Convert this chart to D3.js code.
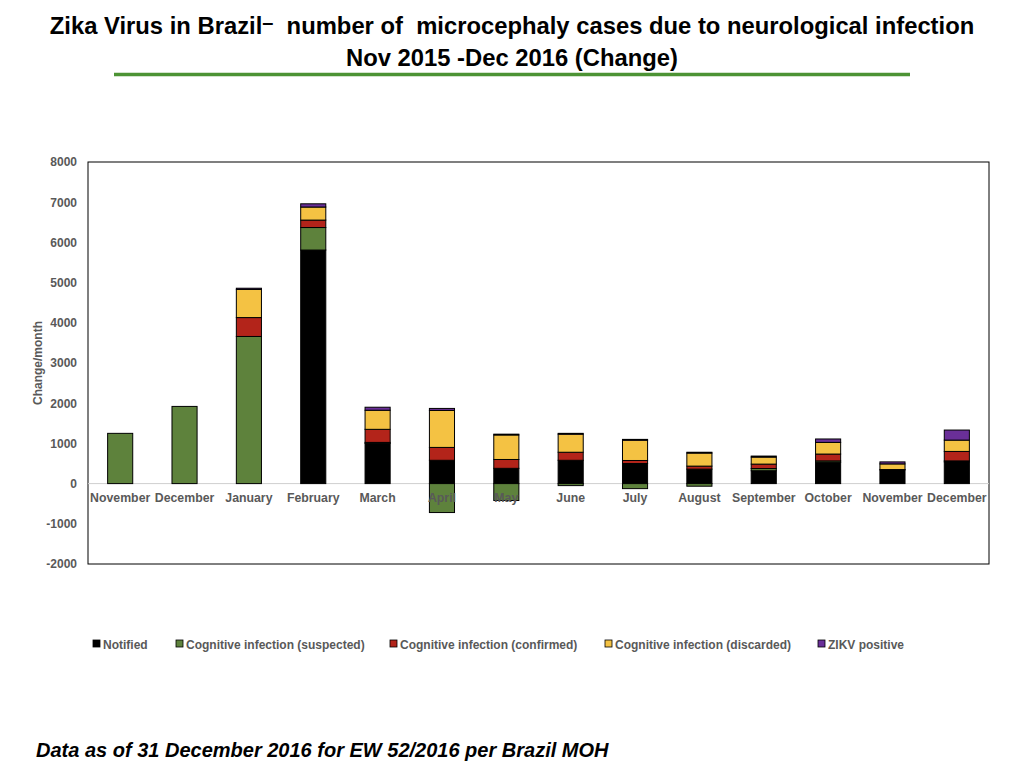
<!DOCTYPE html>
<html>
<head>
<meta charset="utf-8">
<script src="https://cdn.jsdelivr.net/npm/d3@7"></script>
<style>
  html, body { margin: 0; padding: 0; background: #fff; }
  svg { display: block; font-family: "Liberation Sans", Arial, Helvetica, sans-serif; }
</style>
</head>
<body>
<svg id="chart" width="1024" height="768"></svg>
<script>
const months = ["November","December","January","February","March","April","May","June","July","August","September","October","November","December"];
const notified  = [0, 0, 0, 5810, 1000, 580, 380, 580, 500, 360, 320, 530, 340, 540];
const suspected = [1250, 1920, 3660, 560, 25, -720, -420, -50, -125, -65, 55, 35, 0, 25];
const confirmed = [0, 0, 470, 185, 325, 320, 220, 200, 75, 75, 110, 170, 10, 235];
const discarded = [0, 0, 700, 325, 475, 920, 610, 450, 505, 325, 175, 290, 140, 282];
const zikv      = [0, 0, 30, 80, 75, 50, 20, 20, 20, 20, 25, 85, 50, 250];
const seriesNames = ["Notified", "Cognitive infection (suspected)", "Cognitive infection (confirmed)", "Cognitive infection (discarded)", "ZIKV positive"];
const seriesColors = ["#000000", "#5e823c", "#b3241a", "#f4c243", "#6a2f98"];
const yTicks = [-2000, -1000, 0, 1000, 2000, 3000, 4000, 5000, 6000, 7000, 8000];

const seriesArrays = [notified, suspected, confirmed, discarded, zikv];
const keys = seriesNames.map((_, i) => "s" + i);
const rows = months.map((m, i) => {
  const r = { idx: i, month: m };
  seriesArrays.forEach((arr, k) => r[keys[k]] = arr[i]);
  return r;
});

const svg = d3.select("#chart");
const pL = 88, pR = 989, pT = 162, pB = 564;

const x = d3.scaleBand().domain(d3.range(months.length)).range([pL, pR]).paddingInner(0.61).paddingOuter(0.305);
const y = d3.scaleLinear().domain([-2000, 8000]).range([pB, pT]);

// Title
const title = svg.append("text").attr("x", 512).attr("y", 34).attr("text-anchor", "middle")
  .attr("font-size", 23.8).attr("font-weight", "bold").attr("fill", "#000").style("white-space", "pre");
title.append("tspan").text("Zika Virus in Brazil");
title.append("tspan").attr("dy", -5).attr("font-size", 20).text("–");
title.append("tspan").attr("dy", 5).text("  number of  microcephaly cases due to neurological infection");
svg.append("text").attr("x", 512).attr("y", 66).attr("text-anchor", "middle")
  .attr("font-size", 23.8).attr("font-weight", "bold").attr("fill", "#000")
  .text("Nov 2015 -Dec 2016 (Change)");
svg.append("line").attr("x1", 114).attr("x2", 910).attr("y1", 74.5).attr("y2", 74.5)
  .attr("stroke", "#4c9334").attr("stroke-width", 3.5);

// Plot frame
svg.append("rect").attr("x", pL).attr("y", pT).attr("width", pR - pL).attr("height", pB - pT)
  .attr("fill", "none").attr("stroke", "#000").attr("stroke-width", 1);

// Zero line
svg.append("line").attr("x1", pL).attr("x2", pR).attr("y1", y(0)).attr("y2", y(0))
  .attr("stroke", "#cfcfcf").attr("stroke-width", 1);

// Stacked bars
const stack = d3.stack().keys(keys).offset(d3.stackOffsetDiverging);
const stacked = stack(rows);
svg.append("g").selectAll("g").data(stacked).join("g")
  .attr("fill", (d, i) => seriesColors[i])
  .selectAll("rect").data(d => d.filter(p => p[1] !== p[0])).join("rect")
  .attr("x", d => x(d.data.idx))
  .attr("width", x.bandwidth())
  .attr("y", d => y(Math.max(d[0], d[1])))
  .attr("height", d => Math.abs(y(d[0]) - y(d[1])))
  .attr("stroke", "#000").attr("stroke-width", 1);

// Y axis tick labels
const yAxis = d3.axisLeft(y).tickValues(yTicks).tickSize(0).tickPadding(0).tickFormat(d => String(d));
const yg = svg.append("g").attr("transform", `translate(${pL - 11},0)`).call(yAxis);
yg.select(".domain").remove();
yg.selectAll("text").attr("font-size", 12).attr("font-weight", "bold").attr("fill", "#595959")
  .attr("font-family", "Liberation Sans, Arial, sans-serif");

// Y label
svg.append("text").attr("transform", `translate(42,363) rotate(-90)`).attr("text-anchor", "middle")
  .attr("font-size", 12).attr("font-weight", "bold").attr("fill", "#595959").text("Change/month");

// X category labels
const xAxis = d3.axisBottom(x).tickSize(0).tickPadding(0).tickFormat(i => months[i]);
const xg = svg.append("g").attr("transform", `translate(0,${y(0) + 10})`).call(xAxis);
xg.select(".domain").remove();
xg.selectAll("text").attr("font-size", 12.3).attr("font-weight", "bold").attr("fill", "#595959")
  .attr("font-family", "Liberation Sans, Arial, sans-serif").attr("dy", "0.71em");

// Legend
const legendX = [93, 176, 390, 605, 818];
const lg = svg.append("g");
seriesNames.forEach((name, i) => {
  lg.append("rect").attr("x", legendX[i]).attr("y", 640).attr("width", 7).attr("height", 7)
    .attr("fill", seriesColors[i]).attr("stroke", "#000").attr("stroke-width", 0.8);
  lg.append("text").attr("x", legendX[i] + 10).attr("y", 648.5)
    .attr("font-size", 12).attr("font-weight", "bold").attr("fill", "#595959").text(name);
});

// Footer
svg.append("text").attr("x", 36).attr("y", 757).attr("font-size", 20).attr("font-weight", "bold")
  .attr("font-style", "italic").attr("fill", "#000").text("Data as of 31 December 2016 for EW 52/2016 per Brazil MOH");
</script>
</body>
</html>
